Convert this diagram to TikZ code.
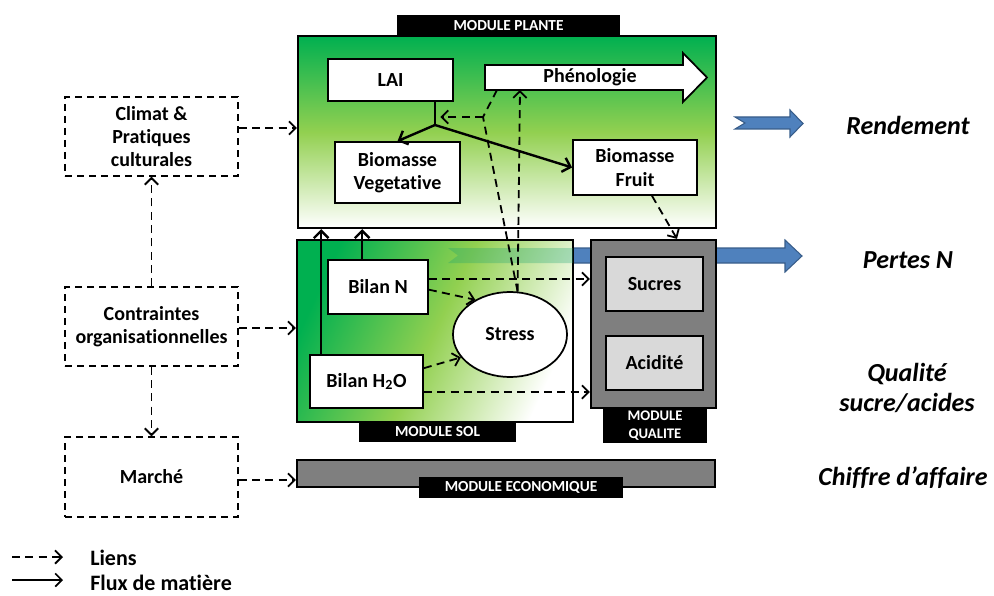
\documentclass[tikz,border=0pt]{standalone}
\usepackage{fontspec}
\setmainfont{Carlito}[RawFeature={-liga}]
\usetikzlibrary{arrows.meta,shapes.geometric,calc}
\definecolor{gdark}{RGB}{0,176,80}
\definecolor{gmid}{RGB}{146,208,80}
\definecolor{bluef}{RGB}{79,129,189}
\definecolor{blued}{RGB}{56,93,138}
\definecolor{grayq}{RGB}{127,127,127}
\definecolor{grayl}{RGB}{217,217,217}
\begin{document}
\begin{tikzpicture}[x=0.75pt,y=-0.75pt,font=\bfseries,
  sz/.style 2 args={minimum width=#1*0.75pt, minimum height=#2*0.75pt},
  txt/.style={font=\fontsize{15}{17.5}\selectfont\bfseries},
  wbox/.style={draw=black, line width=1.3pt, fill=white, inner sep=0pt, align=center, txt},
  dbox/.style={draw=black, line width=1.1pt, dash pattern=on 5.5pt off 3.5pt, inner sep=0pt, align=center, txt},
  modbox/.style={draw=black, line width=1.7pt, inner sep=0pt},
  modlabel/.style={fill=black, text=white, inner sep=0pt, align=center, font=\fontsize{11.5}{13}\selectfont\bfseries},
  lien/.style={line width=1.35pt, dash pattern=on 6pt off 4pt, -{Straight Barb[length=5pt,width=10pt,line width=1.35pt]}},
  lienplain/.style={line width=1.35pt, dash pattern=on 6pt off 4pt},
  flux/.style={line width=1.8pt, -{Straight Barb[length=5.5pt,width=11pt,line width=1.8pt]}},
  outarrow/.style={fill=bluef, draw=blued, line width=0.8pt},
  result/.style={font=\fontsize{19.5}{22.5}\selectfont\bfseries\itshape, align=center},
  legendtxt/.style={font=\fontsize{16.5}{19}\selectfont\bfseries, anchor=west, inner sep=0pt}
]
\useasboundingbox (0,0) rectangle (994,595);

% Pertes N arrow (behind)
\draw[outarrow] (448,248) -- (785,248) -- (785,240) -- (802,256) -- (785,272) -- (785,263) -- (448,263) -- (458,255.5) -- cycle;

% Module plante
\node[modbox, top color=gdark, bottom color=white, middle color=gmid, sz={418}{192}] (plante) at (507,132) {};
\node[modlabel, sz={223}{21}] (lplante) at (508.5,25.5) {MODULE PLANTE};

% Module sol
\node[modbox, top color=gdark, bottom color=white, middle color=gmid, shading angle=65, sz={276}{182}] (sol) at (435,331) {};
\fill[gdark!70!bluef, fill opacity=0.3] (448,248) -- (573,248) -- (573,263) -- (448,263) -- (458,255.5) -- cycle;
\node[modlabel, sz={157}{20}] (lsol) at (437.5,432) {MODULE SOL};

% Module qualite
\node[modbox, fill=grayq, sz={125}{168}] (qual) at (653.5,324) {};
\node[wbox, fill=grayl, sz={97}{54}] (sucres) at (654.5,284) {Sucres};
\node[wbox, fill=grayl, sz={97}{54}] (acid) at (654.5,363) {Acidité};
\node[modlabel, sz={104}{35}, font=\fontsize{11}{14}\selectfont\bfseries] (lqual) at (655,425.5) {MODULE\\QUALITE};

% Module economique
\node[modbox, fill=grayq, sz={418}{27}] (eco) at (506,473.5) {};
\node[modlabel, sz={204}{21}] (leco) at (521,487.5) {MODULE ECONOMIQUE};

% Plant nodes
\node[wbox, sz={125}{42}] (lai) at (390.5,80) {LAI};
\draw[line width=1.3pt, fill=white] (485,65) -- (683,65) -- (683,53) -- (707,77.5) -- (683,102) -- (683,90) -- (485,90) -- cycle;
\node[txt] (phen) at (590,77.5) {Phénologie};
\node[wbox, sz={125}{61}] (bveg) at (397.5,172.5) {Biomasse\\Vegetative};
\node[wbox, sz={124}{55}] (bfruit) at (635,167.5) {Biomasse\\Fruit};

% Soil nodes
\node[wbox, sz={100}{54}] (bn) at (378,287) {Bilan N};
\node[wbox, sz={113}{53}] (bh) at (366.5,381.5) {Bilan H\textsubscript{2}O};
\node[draw, ellipse, line width=1.3pt, fill=white, sz={114}{85}, inner sep=0pt, txt] (stress) at (510,334.5) {Stress};

% coordinates
\coordinate (J) at (435,125);
\coordinate (K) at (483,117);
\coordinate (P1) at (497,90);
\coordinate (P2) at (520,90);

% Plant connectors
\draw[line width=1.8pt] (J |- lai.south) -- (J);
\draw[flux] (J) -- (bveg.north);
\draw[flux] (J) -- (bfruit.west);
\draw[lien] (K) -- ([xshift=4pt]J |- K);
\draw[lienplain] (P1) -- (K);
\draw[lienplain] (stress.80) -- (K);
\draw[lien] (stress.80) -- (P2);
\draw[lien] ([xshift=12.75pt]bfruit.south) -- ([xshift=17.6pt]qual.north);

% Soil connectors
\coordinate (f1) at ([xshift=9pt]bh.north west);
\coordinate (f2) at ([xshift=26.25pt]bn.north west);
\draw[flux] (f1) -- (f1 |- plante.south);
\draw[flux] (f2) -- (f2 |- plante.south);
\coordinate (bnq) at ([yshift=6pt]bn.east);
\draw[lien] (bnq) -- (qual.west |- bnq);
\draw[lien] ([yshift=-2pt]bn.east) -- (stress.135);
\draw[lien] ([yshift=10pt]bh.east) -- (stress.205);
\coordinate (bhq) at ([yshift=-7.9pt]bh.east);
\draw[lien] (bhq) -- (qual.west |- bhq);

% Left boxes
\node[dbox, sz={173}{79}] (climat) at (151.5,136.5) {Climat \&\\Pratiques\\culturales};
\node[dbox, sz={173}{79}] (contr) at (151.5,326.5) {Contraintes\\organisationnelles};
\node[dbox, sz={173}{80}] (marche) at (151.5,477) {Marché};
\draw[lien] (climat.east |- 0,128) -- (plante.west |- 0,128);
\draw[lien] (contr.east |- 0,328) -- (sol.west |- 0,328);
\draw[lien] (marche.east |- 0,480) -- (eco.west |- 0,480);
\draw[lien] (contr.north) -- (climat.south);
\draw[lien] (contr.south) -- (marche.north);

% Outputs
\draw[outarrow] (735,117) -- (790,117) -- (790,110) -- (803,123.5) -- (790,137) -- (790,129) -- (735,129) -- (745,123) -- cycle;
\node[result] (rend) at (908,125) {Rendement};
\node[result] (pertes) at (908,260) {Pertes N};
\node[result] (qualite) at (907,388) {Qualité\\sucre/acides};
\node[result] (chiffre) at (903,478) {Chiffre d’affaire};

% Legend
\coordinate (la) at (12,557);
\coordinate (lb) at (63,557);
\coordinate (lc) at (12,580);
\coordinate (ld) at (63,580);
\draw[lien] (la) -- (lb);
\draw[line width=1.2pt, -{Straight Barb[length=5pt,width=10pt,line width=1.2pt]}] (lc) -- (ld);
\node[legendtxt] (liens) at (90,558) {Liens};
\node[legendtxt] (fluxm) at (90,583) {Flux de matière};
\end{tikzpicture}
\end{document}
